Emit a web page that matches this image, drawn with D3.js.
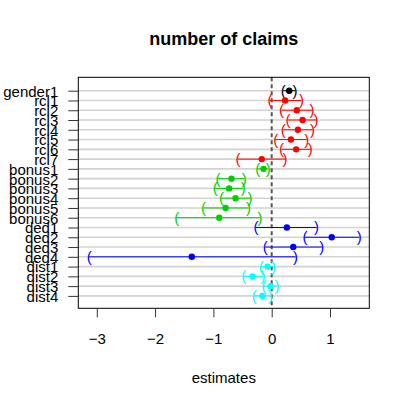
<!DOCTYPE html>
<html>
<head>
<meta charset="utf-8">
<script src="https://cdn.jsdelivr.net/npm/d3@7"></script>
<style>
    body { margin: 0; background: #fff; }
    #chartContainer { width: 409px; height: 407px; }
    text { font-family: "Liberation Sans", Arial, Helvetica, sans-serif; }
</style>
</head>
<body>
<div id="chartContainer"></div>
<script>
// data
const labels = ["gender1", "rcl1", "rcl2", "rcl3", "rcl4", "rcl5", "rcl6", "rcl7",
    "bonus1", "bonus2", "bonus3", "bonus4", "bonus5", "bonus6",
    "ded1", "ded2", "ded3", "ded4", "dist1", "dist2", "dist3", "dist4"];
const groups = ["gender", "rcl", "rcl", "rcl", "rcl", "rcl", "rcl", "rcl",
    "bonus", "bonus", "bonus", "bonus", "bonus", "bonus",
    "ded", "ded", "ded", "ded", "dist", "dist", "dist", "dist"];
const estimates = [0.30, 0.23, 0.43, 0.53, 0.45, 0.33, 0.42, -0.17,
    -0.14, -0.69, -0.73, -0.62, -0.79, -0.90,
    0.26, 1.03, 0.37, -1.37, -0.07, -0.33, -0.02, -0.16];
const lower = [0.20, -0.03, 0.17, 0.28, 0.20, 0.07, 0.17, -0.58,
    -0.24, -0.92, -0.97, -0.86, -1.17, -1.63,
    -0.27, 0.57, -0.11, -3.13, -0.18, -0.48, -0.13, -0.30];
const upper = [0.40, 0.51, 0.69, 0.76, 0.70, 0.60, 0.66, 0.23,
    -0.06, -0.47, -0.49, -0.37, -0.40, -0.20,
    0.77, 1.50, 0.86, 0.41, 0.03, -0.15, 0.09, -0.02];
const xTicks = [-3, -2, -1, 0, 1];
const groupNames = ["gender", "rcl", "bonus", "ded", "dist"];
const groupColors = ["#000000", "#ff0000", "#00cd00", "#0000ff", "#00ffff"];

function coefPlot() {
    const data = labels.map((l, i) => ({
        label: l,
        group: groups[i],
        est: estimates[i],
        lo: lower[i],
        hi: upper[i]
    }));

    const width = 409;
    const height = 407;
    const box = { left: 78.3, right: 369.3, top: 77.3, bottom: 308.3 };

    d3.select("#chartContainer").selectAll("*").remove();

    const svg = d3.select("#chartContainer")
        .append("svg")
        .attr("width", width)
        .attr("height", height);

    // scales
    const x = d3.scaleLinear()
        .domain([-3.317, 1.674])
        .range([box.left, box.right]);

    const y = d3.scalePoint()
        .domain(labels)
        .range([90.7, 295.9]);

    const color = d3.scaleOrdinal()
        .domain(groupNames)
        .range(groupColors);

    // grey row lines
    svg.append("g")
        .selectAll("line")
        .data(labels)
        .enter().append("line")
        .attr("x1", box.left)
        .attr("x2", box.right)
        .attr("y1", d => y(d))
        .attr("y2", d => y(d))
        .attr("stroke", "#d3d3d3")
        .attr("stroke-width", 1.6);

    // zero line
    svg.append("line")
        .attr("x1", x(0))
        .attr("x2", x(0))
        .attr("y1", box.top)
        .attr("y2", box.bottom)
        .attr("stroke", "#555")
        .attr("stroke-width", 2)
        .attr("stroke-dasharray", "4,3");

    // intervals
    svg.append("g")
        .selectAll("line")
        .data(data)
        .enter().append("line")
        .attr("x1", d => x(d.lo))
        .attr("x2", d => x(d.hi))
        .attr("y1", d => y(d.label))
        .attr("y2", d => y(d.label))
        .attr("stroke", d => color(d.group))
        .attr("stroke-width", 1);

    // brackets at interval ends
    const brackets = svg.append("g")
        .style("font-size", "15px")
        .attr("text-anchor", "middle");

    brackets.selectAll(".lb")
        .data(data)
        .enter().append("text")
        .attr("x", d => x(d.lo))
        .attr("y", d => y(d.label))
        .attr("dy", "0.33em")
        .attr("fill", d => color(d.group))
        .text("(");

    brackets.selectAll(".rb")
        .data(data)
        .enter().append("text")
        .attr("x", d => x(d.hi))
        .attr("y", d => y(d.label))
        .attr("dy", "0.33em")
        .attr("fill", d => color(d.group))
        .text(")");

    // points
    svg.append("g")
        .selectAll("circle")
        .data(data)
        .enter().append("circle")
        .attr("cx", d => x(d.est))
        .attr("cy", d => y(d.label))
        .attr("r", 3.2)
        .attr("fill", d => color(d.group));

    // box
    svg.append("rect")
        .attr("x", box.left)
        .attr("y", box.top)
        .attr("width", box.right - box.left)
        .attr("height", box.bottom - box.top)
        .attr("fill", "none")
        .attr("stroke", "#000")
        .attr("stroke-width", 1);

    // x axis
    const xAxis = svg.append("g")
        .attr("transform", `translate(0,${box.bottom})`)
        .call(d3.axisBottom(x)
            .tickValues(xTicks)
            .tickSize(9)
            .tickPadding(16)
            .tickFormat(d => d < 0 ? "\u2212" + Math.abs(d) : String(d)));
    xAxis.select(".domain").remove();
    xAxis.selectAll("line").attr("stroke", "#333");
    xAxis.selectAll("text")
        .style("font-size", "15px")
        .style("font-family", "'Liberation Sans', Arial, sans-serif")
        .attr("fill", "#000");

    // y axis
    const yAxis = svg.append("g")
        .attr("transform", `translate(${box.left},0)`)
        .call(d3.axisLeft(y)
            .tickSize(10)
            .tickPadding(10));
    yAxis.select(".domain").remove();
    yAxis.selectAll("line").attr("stroke", "#333");
    yAxis.selectAll("text")
        .style("font-size", "15px")
        .style("font-family", "'Liberation Sans', Arial, sans-serif")
        .attr("dy", "0.36em")
        .attr("fill", "#000");

    // title
    svg.append("text")
        .attr("x", (box.left + box.right) / 2)
        .attr("y", 45)
        .attr("text-anchor", "middle")
        .style("font-size", "18px")
        .style("font-weight", "700")
        .text("number of claims");

    // axis label
    svg.append("text")
        .attr("x", (box.left + box.right) / 2)
        .attr("y", 383)
        .attr("text-anchor", "middle")
        .style("font-size", "15px")
        .text("estimates");
}

coefPlot();
</script>
</body>
</html>
